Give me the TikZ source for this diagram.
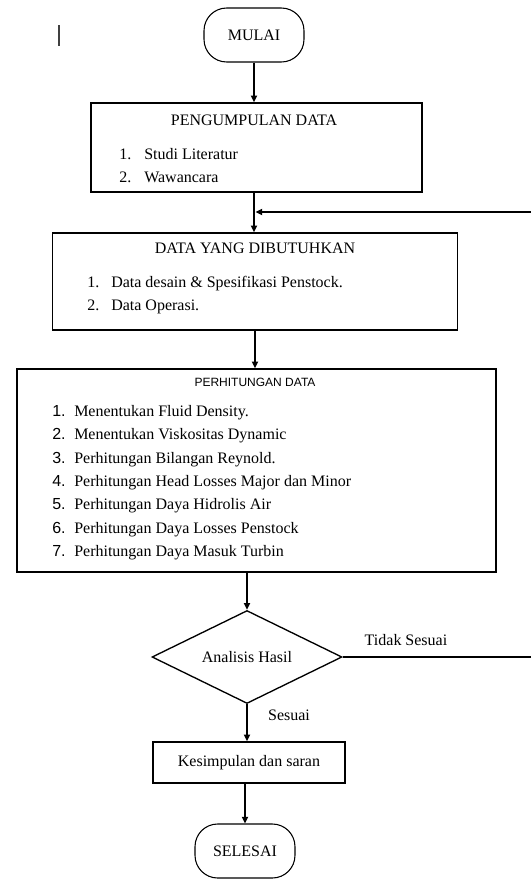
\documentclass[tikz,border=0pt]{standalone}
\usepackage{fontspec}
\setmainfont{Liberation Serif}
\setsansfont{Liberation Sans}
\usetikzlibrary{arrows.meta,positioning,shapes.geometric,calc}
\newcommand{\numitem}[3]{\makebox[#1][l]{#2}#3}
\tikzset{
  termbox/.style={
    rectangle, rounded corners=17pt, draw, line width=0.8pt,
    minimum width=75pt, minimum height=40.5pt,
    font=\fontsize{12}{14}\selectfont, inner sep=0pt
  },
  procbox/.style={
    rectangle, draw, line width=1pt, inner sep=0pt
  },
  decbox/.style={
    diamond, draw, line width=1pt, shape aspect=2, inner sep=0pt,
    minimum width=142.5pt, minimum height=69.75pt,
    font=\fontsize{12}{14}\selectfont
  },
  boxtitle/.style={font=\fontsize{12}{14}\selectfont, inner sep=0pt},
  itemlist/.style={
    font=\fontsize{12}{#1}\selectfont, align=left,
    inner sep=0pt, anchor=north west
  },
  itemlist/.default=17.25pt,
  flowarrow/.style={-{Triangle[length=5pt,width=4.5pt]}, line width=1.4pt},
  edgelabel/.style={font=\fontsize{12}{14}\selectfont, inner sep=0pt},
}

\begin{document}
\begin{tikzpicture}[x=0.75pt, y=-0.75pt]
  \useasboundingbox (0,0) rectangle (531,879);
  \draw[line width=1pt, black!75] (59,25) -- (59,46);

  \node[termbox] (mulai) at (254,35) {MULAI};

  \node[procbox, minimum width=248.25pt, minimum height=66.75pt] (kumpul) at (256.5,147.5) {};
  \node[boxtitle] (kumpultitle) at (254,120) {PENGUMPULAN DATA};
  \node[itemlist] (kumpullist) at (119,148) {\numitem{18.75pt}{1.}{Studi Literatur}\\
    \numitem{18.75pt}{2.}{Wawancara}};

  \node[procbox, minimum width=303.75pt, minimum height=72.75pt] (butuh) at (255,281.5) {};
  \node[boxtitle] (butuhtitle) at (255,248) {DATA YANG DIBUTUHKAN};
  \node[itemlist] (butuhlist) at (87,276) {\numitem{18pt}{1.}{Data desain \& Spesifikasi Penstock.}\\
    \numitem{18pt}{2.}{Data Operasi.}};

  \node[procbox, minimum width=359.25pt, minimum height=152.25pt] (hitung) at (256.5,470.5) {};
  \node[boxtitle, font=\sffamily\fontsize{9}{11}\selectfont] (hitungtitle) at (255,382) {PERHITUNGAN DATA};
  \node[itemlist=17.5pt] (hitunglist) at (52,405) {%
    \numitem{16.5pt}{\sffamily 1.}{Menentukan Fluid Density.}\\
    \numitem{16.5pt}{\sffamily 2.}{Menentukan Viskositas Dynamic}\\
    \numitem{16.5pt}{\sffamily 3.}{Perhitungan Bilangan Reynold.}\\
    \numitem{16.5pt}{\sffamily 4.}{Perhitungan Head Losses Major dan Minor}\\
    \numitem{16.5pt}{\sffamily 5.}{Perhitungan Daya Hidrolis Air}\\
    \numitem{16.5pt}{\sffamily 6.}{Perhitungan Daya Losses Penstock}\\
    \numitem{16.5pt}{\sffamily 7.}{Perhitungan Daya Masuk Turbin}};

  \node[decbox] (analisis) at (247,657) {Analisis Hasil};
  \node[procbox, minimum width=144pt, minimum height=30.75pt, font=\fontsize{12}{14}\selectfont] (simpul) at (249,762.5) {Kesimpulan dan saran};
  \node[termbox] (selesai) at (245,851) {SELESAI};

  \node[edgelabel] (tidak) at (406,640) {Tidak Sesuai};
  \node[edgelabel] (sesuai) at (289,715) {Sesuai};

  \coordinate (balik) at (545,212);
  \coordinate (masuk) at (255.5,212);

  \draw[flowarrow] (mulai.south) -- (mulai.south |- kumpul.north);
  \draw[flowarrow] (kumpul.south -| mulai) -- (mulai |- butuh.north);
  \draw[flowarrow] (butuh.south) -- (butuh.south |- hitung.north);
  \draw[flowarrow] (hitung.south -| analisis) -- (analisis.north);
  \draw[flowarrow] (analisis.south) -- (analisis.south |- simpul.north);
  \draw[flowarrow] (simpul.south -| selesai) -- (selesai.north);
  \draw[flowarrow] (analisis.east) -| (balik) -- (masuk);
\end{tikzpicture}
\end{document}
